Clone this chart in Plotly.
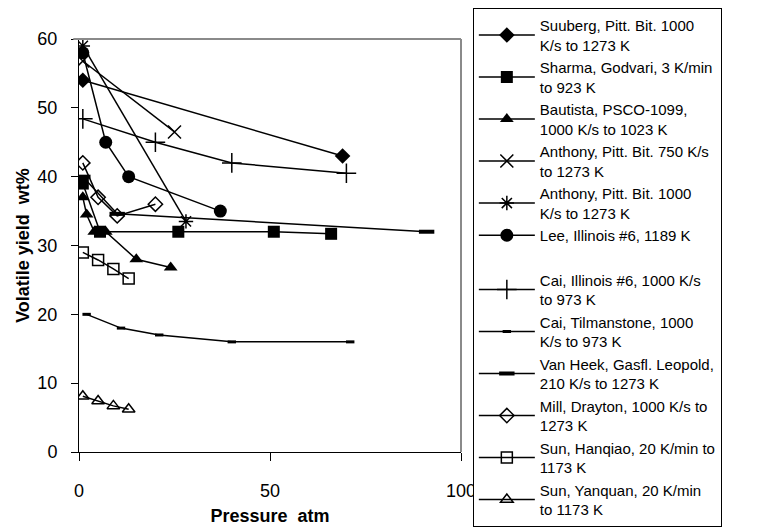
import plotly.graph_objects as go

# ---------------- data ----------------
suuberg_x = [1, 69]
suuberg_y = [54, 43]

sharma_x = [1, 5.5, 26, 51, 66]
sharma_y = [39, 32, 32, 32, 31.7]

bautista_x = [1, 2, 4, 7, 15, 24]
bautista_y = [37, 34.5, 32, 32, 28, 26.8]

anthony750_x = [1, 25]
anthony750_y = [56.8, 46.5]

anthony1000_x = [1, 28]
anthony1000_y = [59, 33.5]

lee_x = [1, 7, 13, 37]
lee_y = [58, 45, 40, 35]

cai_ill_x = [1, 20, 40, 70]
cai_ill_y = [48.4, 45, 42, 40.5]

cai_til_x = [2, 11, 21, 40, 71]
cai_til_y = [20, 18, 17, 16, 16]

vanheek_x = [1, 10, 91]
vanheek_y = [40, 34.6, 32]

mill_x = [1, 5, 10, 20]
mill_y = [42, 37, 34.3, 36]

sun_hq_x = [1, 5, 9, 13]
sun_hq_y = [29, 27.9, 26.6, 25.2]

sun_yq_x = [1, 5, 9, 13]
sun_yq_y = [8.1, 7.4, 6.7, 6.2]

names = [
    "Suuberg, Pitt. Bit. 1000<br>K/s to 1273 K",
    "Sharma, Godvari, 3 K/min<br>to 923 K",
    "Bautista, PSCO-1099,<br>1000 K/s to 1023 K",
    "Anthony, Pitt. Bit. 750 K/s<br>to 1273 K",
    "Anthony, Pitt. Bit. 1000<br>K/s to 1273 K",
    "Lee, Illinois #6, 1189 K",
    "Cai, Illinois #6, 1000 K/s<br>to 973 K",
    "Cai, Tilmanstone, 1000<br>K/s to 973 K",
    "Van Heek, Gasfl. Leopold,<br>210 K/s to 1273 K",
    "Mill, Drayton, 1000 K/s to<br>1273 K",
    "Sun, Hanqiao, 20 K/min to<br>1173 K",
    "Sun, Yanquan, 20 K/min<br>to 1173 K",
]

x_ticks = [0, 50, 100]
y_ticks = [0, 10, 20, 30, 40, 50, 60]

xs = [suuberg_x, sharma_x, bautista_x, anthony750_x, anthony1000_x, lee_x,
      cai_ill_x, cai_til_x, vanheek_x, mill_x, sun_hq_x, sun_yq_x]
ys = [suuberg_y, sharma_y, bautista_y, anthony750_y, anthony1000_y, lee_y,
      cai_ill_y, cai_til_y, vanheek_y, mill_y, sun_hq_y, sun_yq_y]

# ---------------- styles ----------------
B = "black"
markers = [
    dict(symbol="diamond", size=12, color=B),
    dict(symbol="square", size=12, color=B),
    dict(symbol="triangle-up", size=12, color=B),
    dict(symbol="x-thin", size=13, color=B, line=dict(color=B, width=1.5)),
    dict(symbol="asterisk", size=12, color=B, line=dict(color=B, width=1.5)),
    dict(symbol="circle", size=13, color=B),
    dict(symbol="cross-thin", size=14, color=B, line=dict(color=B, width=1.5)),
    dict(symbol="line-ew", size=6, color=B, line=dict(color=B, width=3)),
    dict(symbol="line-ew", size=11, color=B, line=dict(color=B, width=4)),
    dict(symbol="diamond-open", size=11, color=B, line=dict(color=B, width=1.5)),
    dict(symbol="square-open", size=11, color=B, line=dict(color=B, width=1.5)),
    dict(symbol="triangle-up-open", size=11, color=B, line=dict(color=B, width=1.5)),
]

fig = go.Figure()
for i, (n, x, y, m) in enumerate(zip(names, xs, ys, markers)):
    fig.add_trace(go.Scatter(
        x=x, y=y, name=n, mode="lines+markers",
        line=dict(color=B, width=1.5), marker=m,
        legendgroup="g1" if i < 6 else "g2",
    ))

FONT = "Liberation Sans, Arial, sans-serif"

# The page body has an 8px margin, so the figure is sized/offset to compensate.
fig.update_layout(
    width=754, height=523,
    paper_bgcolor="white", plot_bgcolor="white",
    margin=dict(l=71, r=301, t=31, b=79, autoexpand=False),
    font=dict(family=FONT, size=18, color="black"),
    showlegend=True,
    legend=dict(
        x=1.031, y=1.075, xanchor="left", yanchor="top",
        bordercolor="black", borderwidth=1, bgcolor="white",
        font=dict(family=FONT, size=15, color="black"),
        itemwidth=56, traceorder="grouped", tracegroupgap=22,
        valign="middle", maxheight=600,
    ),
    xaxis=dict(
        range=[0, 100], tickvals=x_ticks, showgrid=False, zeroline=False,
        showline=True, linecolor="black", linewidth=1,
        ticks="outside", ticklen=8, tickcolor="black",
        tickfont=dict(size=18), ticklabelstandoff=14,
        title=dict(text="<b>Pressure  atm</b>", font=dict(size=18), standoff=9),
    ),
    yaxis=dict(
        range=[0, 60], tickvals=y_ticks, showgrid=False, zeroline=False,
        showline=True, linecolor="black", linewidth=1,
        ticks="outside", ticklen=7, tickcolor="black",
        tickfont=dict(size=18), ticklabelstandoff=10,
        title=dict(text="<b>Volatile yield  wt%</b>", font=dict(size=18), standoff=3),
    ),
    xaxis2=dict(
        overlaying="x", anchor="y", side="bottom", range=[0, 100], tickvals=x_ticks[1:],
        showticklabels=False, ticks="inside", ticklen=8, tickcolor="black",
        showgrid=False, zeroline=False, showline=False,
    ),
    yaxis2=dict(
        overlaying="y", anchor="x", side="left", range=[0, 60], tickvals=y_ticks,
        showticklabels=False, ticks="inside", ticklen=6, tickcolor="black",
        showgrid=False, zeroline=False, showline=False,
    ),
    shapes=[
        dict(type="line", xref="paper", yref="paper", x0=-0.015, x1=1, y0=1, y1=1,
             line=dict(color="#8a8a8a", width=2)),
        dict(type="line", xref="paper", yref="paper", x0=1, x1=1, y0=0, y1=1,
             line=dict(color="#8a8a8a", width=2)),
    ],
)

fig.write_html("out.html")
